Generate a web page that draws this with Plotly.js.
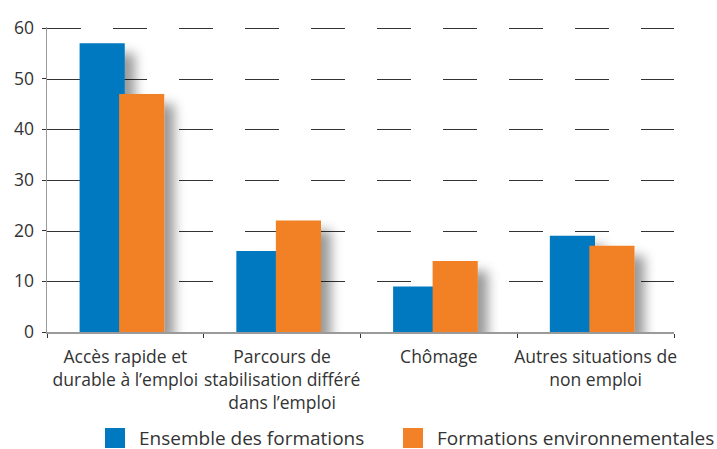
<!DOCTYPE html>
<html>
<head>
<meta charset="utf-8">
<script src="https://cdn.plot.ly/plotly-3.0.1.min.js"></script>
<style>
html,body{margin:0;padding:0;background:#fff;}
#chart{width:717px;height:449px;}
</style>
</head>
<body>
<div id="chart"></div>
<script>
const categories = ["Accès rapide et<br>durable à l’emploi", "Parcours de<br>stabilisation différé<br>dans l’emploi", "Chômage", "Autres situations de<br>non emploi"];
const ensembleValues = [57, 16, 9, 19];
const environValues = [47, 22, 14, 17];
const seriesNames = ["Ensemble des formations", "Formations environnementales"];
const yTicks = [0, 10, 20, 30, 40, 50, 60];

const FONT = "Open Sans, sans-serif";

const traces = [
  {type: "bar", x: categories, y: ensembleValues, name: seriesNames[0],
   marker: {color: "#0079C1"}, offset: -0.292, width: 0.288, hoverinfo: "skip"},
  {type: "bar", x: categories, y: environValues, name: seriesNames[1],
   marker: {color: "#F28127"}, offset: -0.04, width: 0.288, hoverinfo: "skip"}
];

const layout = {
  width: 717, height: 449,
  margin: {l: 47, r: 43, t: 27, b: 117, autoexpand: false},
  paper_bgcolor: "#fff", plot_bgcolor: "rgba(0,0,0,0)",
  barmode: "overlay",
  showlegend: true,
  font: {family: FONT, color: "#333"},
  xaxis: {
    type: "category", range: [-0.5, 3.5], tickangle: 0,
    showline: true, linecolor: "#9a9a9a", linewidth: 2,
    ticks: "outside", tickson: "boundaries", ticklen: 4, tickcolor: "#333", tickwidth: 1,
    showgrid: false, zeroline: false, ticklabelstandoff: 8,
    tickfont: {family: FONT, size: 17.5, color: "#333"}
  },
  yaxis: {
    range: [0, 60.2], tickvals: yTicks, ticktext: yTicks.map(String),
    showline: true, linecolor: "#9a9a9a", linewidth: 1.5,
    ticks: "outside", ticklen: 4, tickcolor: "#333", tickwidth: 1,
    showgrid: true, gridcolor: "#333", gridwidth: 1, griddash: "34px,32px",
    zeroline: false, ticklabelstandoff: 4,
    tickfont: {family: FONT, size: 17.5, color: "#333"}
  },
  legend: {
    orientation: "h", xref: "container", x: 0.1325, xanchor: "left", y: -0.348, yanchor: "middle",
    font: {family: FONT, size: 19, color: "#333"},
    traceorder: "normal", entrywidth: 253, entrywidthmode: "pixels"
  }
};

Plotly.newPlot("chart", traces, layout, {staticPlot: true, displayModeBar: false}).then(function (gd) {
  const svg = gd.querySelector("svg.main-svg");
  const ns = "http://www.w3.org/2000/svg";
  let defs = svg.querySelector("defs");
  if (!defs) { defs = document.createElementNS(ns, "defs"); svg.insertBefore(defs, svg.firstChild); }
  const f = document.createElementNS(ns, "filter");
  f.setAttribute("id", "barshadow");
  f.setAttribute("x", "-50%"); f.setAttribute("y", "-50%");
  f.setAttribute("width", "200%"); f.setAttribute("height", "200%");
  const ds = document.createElementNS(ns, "feDropShadow");
  ds.setAttribute("dx", "10"); ds.setAttribute("dy", "10");
  ds.setAttribute("stdDeviation", "6");
  ds.setAttribute("flood-color", "#000"); ds.setAttribute("flood-opacity", "0.4");
  f.appendChild(ds); defs.appendChild(f);
  gd.querySelectorAll(".plot").forEach(el => el.removeAttribute("clip-path"));
  gd.querySelectorAll(".barlayer").forEach(el => el.setAttribute("filter", "url(#barshadow)"));
  // gridlines: render dashes with plain geometry (no crisp edges / transform)
  gd.querySelectorAll(".ygrid").forEach(p => {
    const tr = p.getAttribute("transform") || "";
    const m = tr.match(/translate\(\s*([-\d.e]+)\s*,\s*([-\d.e]+)\s*\)/);
    const d = p.getAttribute("d");
    const dm = d.match(/M([-\d.e]+),([-\d.e]+)h([-\d.e]+)/);
    if (m && dm) {
      const y = Math.round(parseFloat(m[2]) + parseFloat(dm[2])) + 0.5;
      const x0 = parseFloat(m[1]) + parseFloat(dm[1]);
      p.setAttribute("d", "M" + x0 + "," + y + "h" + dm[3]);
      p.removeAttribute("transform");
    }
    p.classList.remove("crisp");
    p.style.shapeRendering = "auto";
  });
  gd.querySelectorAll(".legendpoints path").forEach(p => p.setAttribute("d", "M10,10H-10V-10H10Z"));
  gd.querySelectorAll(".legendtext").forEach(t => t.setAttribute("x", "44"));
  gd.querySelectorAll(".legend [clip-path]").forEach(el => el.removeAttribute("clip-path"));
});
</script>
</body>
</html>
